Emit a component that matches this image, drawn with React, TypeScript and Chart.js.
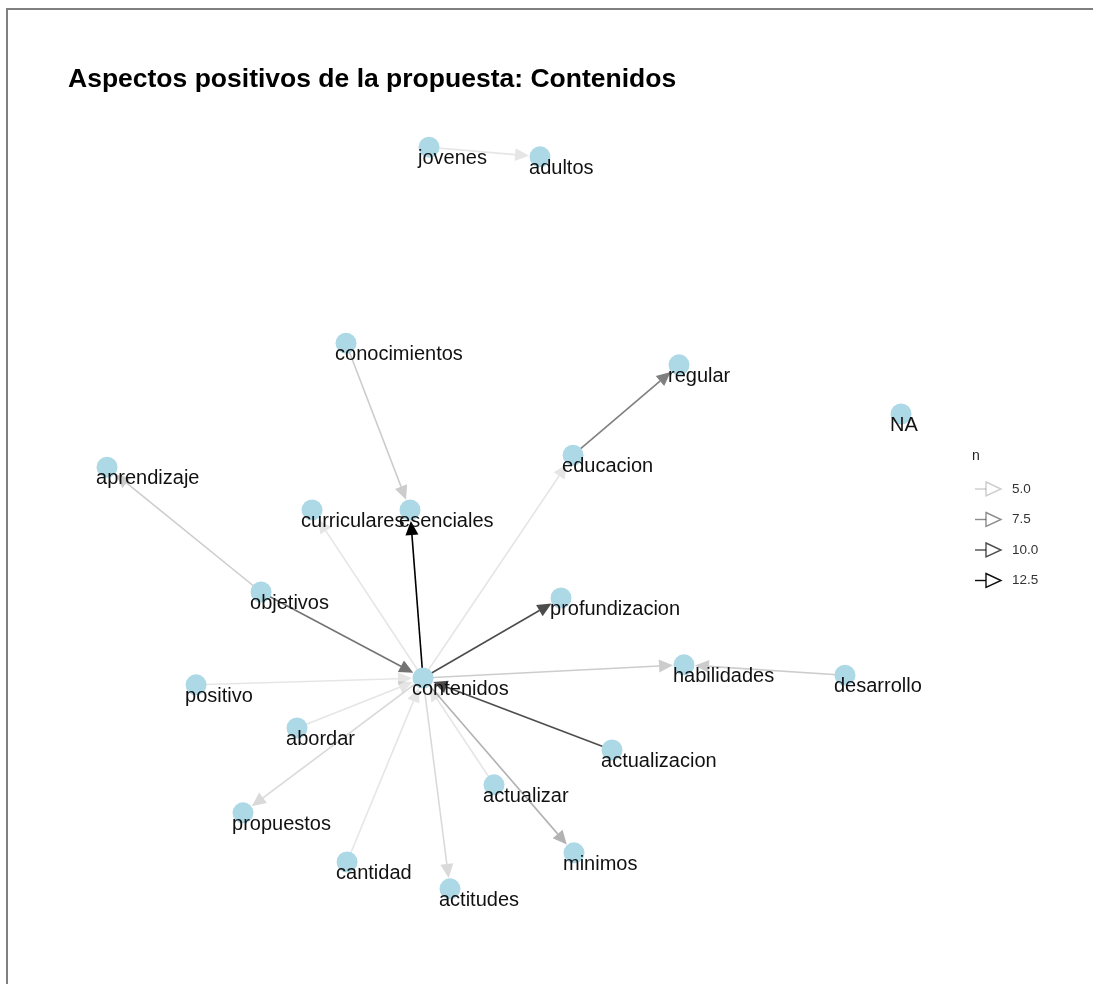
import React, { useEffect, useRef } from 'react';
import { Chart, registerables } from 'chart.js';

Chart.register(...registerables);

const TITLE = 'Aspectos positivos de la propuesta: Contenidos';

// node layout (ggraph layout coordinates)
const nodeNames = [
  'jovenes', 'adultos', 'conocimientos', 'regular', 'NA', 'aprendizaje', 'educacion',
  'curriculares', 'esenciales', 'objetivos', 'profundizacion', 'positivo', 'contenidos',
  'habilidades', 'desarrollo', 'abordar', 'actualizacion', 'actualizar', 'propuestos',
  'cantidad', 'minimos', 'actitudes',
];
const nodeX = [
  4.058, 5.349, 3.093, 6.965, 9.547, 0.314, 5.733,
  2.698, 3.837, 2.105, 5.593, 1.349, 3.988,
  7.023, 8.895, 2.523, 6.186, 4.814, 1.895,
  3.105, 5.744, 4.302,
];
const nodeY = [
  9.66, 9.54, 7.21, 6.94, 6.325, 5.66, 5.81,
  5.125, 5.125, 4.10, 4.025, 2.94, 3.025,
  3.19, 3.06, 2.40, 2.125, 1.69, 1.34,
  0.725, 0.84, 0.39,
];

// edges (bigrams): from -> to with count n
const edgeFrom = [
  'jovenes', 'conocimientos', 'contenidos', 'educacion', 'contenidos', 'objetivos',
  'objetivos', 'contenidos', 'contenidos', 'positivo', 'contenidos', 'desarrollo',
  'actualizacion', 'abordar', 'contenidos', 'cantidad', 'contenidos', 'contenidos',
  'actualizar',
];
const edgeTo = [
  'adultos', 'esenciales', 'esenciales', 'regular', 'educacion', 'aprendizaje',
  'contenidos', 'curriculares', 'profundizacion', 'contenidos', 'habilidades', 'habilidades',
  'contenidos', 'contenidos', 'propuestos', 'contenidos', 'actitudes', 'minimos',
  'contenidos',
];
const edgeN = [
  4, 5, 13, 8, 4, 5,
  8.5, 4, 10, 4, 5, 5,
  10, 4, 4.5, 4, 4.5, 6,
  4,
];

const nMin = 4;
const nMax = 13;
const legendBreaks = [5, 7.5, 10, 12.5];
const legendLabels = ['5.0', '7.5', '10.0', '12.5'];

const alphaFor = (n: number) => 0.1 + 0.9 * (n - nMin) / (nMax - nMin);

const edgesPlugin = {
  id: 'edges',
  beforeDatasetsDraw(chart: any) {
    const { ctx, scales } = chart;
    const xs = scales.x;
    const ys = scales.y;
    ctx.save();
    for (let i = 0; i < edgeFrom.length; i++) {
      const a = nodeNames.indexOf(edgeFrom[i]);
      const b = nodeNames.indexOf(edgeTo[i]);
      const x1 = xs.getPixelForValue(nodeX[a]);
      const y1 = ys.getPixelForValue(nodeY[a]);
      const x2 = xs.getPixelForValue(nodeX[b]);
      const y2 = ys.getPixelForValue(nodeY[b]);
      const dx = x2 - x1;
      const dy = y2 - y1;
      const len = Math.sqrt(dx * dx + dy * dy);
      const ux = dx / len;
      const uy = dy / len;
      const cap = 11;
      const aLen = 14;
      const aHalf = 6.5;
      const tx = x2 - ux * cap;
      const ty = y2 - uy * cap;
      const bx = tx - ux * aLen;
      const by = ty - uy * aLen;
      const col = `rgba(0,0,0,${alphaFor(edgeN[i]).toFixed(3)})`;
      ctx.strokeStyle = col;
      ctx.fillStyle = col;
      ctx.lineWidth = 1.6;
      ctx.beginPath();
      ctx.moveTo(x1, y1);
      ctx.lineTo(bx, by);
      ctx.stroke();
      ctx.beginPath();
      ctx.moveTo(tx, ty);
      ctx.lineTo(bx - uy * aHalf, by + ux * aHalf);
      ctx.lineTo(bx + uy * aHalf, by - ux * aHalf);
      ctx.closePath();
      ctx.fill();
    }
    ctx.restore();
  },
};

const labelsPlugin = {
  id: 'nodeLabels',
  afterDatasetsDraw(chart: any) {
    const { ctx, scales } = chart;
    ctx.save();
    ctx.font = '20px "Liberation Sans", Arial, sans-serif';
    ctx.fillStyle = '#111';
    ctx.textAlign = 'left';
    ctx.textBaseline = 'alphabetic';
    for (let i = 0; i < nodeNames.length; i++) {
      const px = scales.x.getPixelForValue(nodeX[i]);
      const py = scales.y.getPixelForValue(nodeY[i]);
      ctx.fillText(nodeNames[i], px - 11, py + 17);
    }
    ctx.restore();
  },
};

const legendPlugin = {
  id: 'nLegend',
  afterDraw(chart: any) {
    const { ctx } = chart;
    ctx.save();
    ctx.font = '14px "Liberation Sans", Arial, sans-serif';
    ctx.fillStyle = '#222';
    ctx.textBaseline = 'alphabetic';
    ctx.fillText('n', 972, 460);
    ctx.font = '13.5px "Liberation Sans", Arial, sans-serif';
    legendBreaks.forEach((v, i) => {
      const cy = 489 + i * 30.5;
      const col = `rgba(0,0,0,${alphaFor(v).toFixed(3)})`;
      ctx.strokeStyle = col;
      ctx.lineWidth = 1.4;
      ctx.beginPath();
      ctx.moveTo(975, cy);
      ctx.lineTo(986, cy);
      ctx.stroke();
      ctx.beginPath();
      ctx.moveTo(986, cy - 7);
      ctx.lineTo(1001, cy);
      ctx.lineTo(986, cy + 7);
      ctx.closePath();
      ctx.stroke();
      ctx.fillStyle = '#333';
      ctx.textBaseline = 'middle';
      ctx.fillText(legendLabels[i], 1012, cy);
    });
    // frame lines (top and left)
    ctx.fillStyle = '#808080';
    ctx.fillRect(6, 8, chart.width - 6, 2);
    ctx.fillRect(6, 8, 2, chart.height - 8);
    ctx.restore();
  },
};

export default function App() {
  const ref = useRef<HTMLCanvasElement | null>(null);
  useEffect(() => {
    document.body.style.margin = '0';
    document.body.style.background = '#fff';
    const canvas = ref.current;
    if (!canvas) return;
    const chart = new Chart(canvas, {
      type: 'scatter',
      data: {
        datasets: [
          {
            label: 'nodes',
            data: nodeNames.map((_, i) => ({ x: nodeX[i], y: nodeY[i] })),
            backgroundColor: '#ADD8E6',
            borderWidth: 0,
            pointRadius: 10.5,
            pointHoverRadius: 10.5,
          },
        ],
      },
      options: {
        responsive: false,
        animation: false,
        devicePixelRatio: 1,
        events: [],
        layout: { padding: { left: 68, right: 153, top: 0, bottom: 64 } },
        scales: {
          x: { type: 'linear', min: -0.14, max: 10, display: false },
          y: { type: 'linear', min: 0, max: 10, display: false },
        },
        plugins: {
          legend: { display: false },
          tooltip: { enabled: false },
          title: {
            display: true,
            text: TITLE,
            align: 'start',
            color: '#000',
            font: { family: '"Liberation Sans", Arial, sans-serif', size: 26.5, weight: 'bold', lineHeight: 1.2 },
            padding: { top: 64, bottom: 24.2 },
          },
        },
      },
      plugins: [edgesPlugin, labelsPlugin, legendPlugin],
    });
    return () => chart.destroy();
  }, []);
  return (
    <div style={{ width: 1093, height: 984, background: '#fff' }}>
      <canvas ref={ref} width={1093} height={984} style={{ display: 'block' }} />
    </div>
  );
}
